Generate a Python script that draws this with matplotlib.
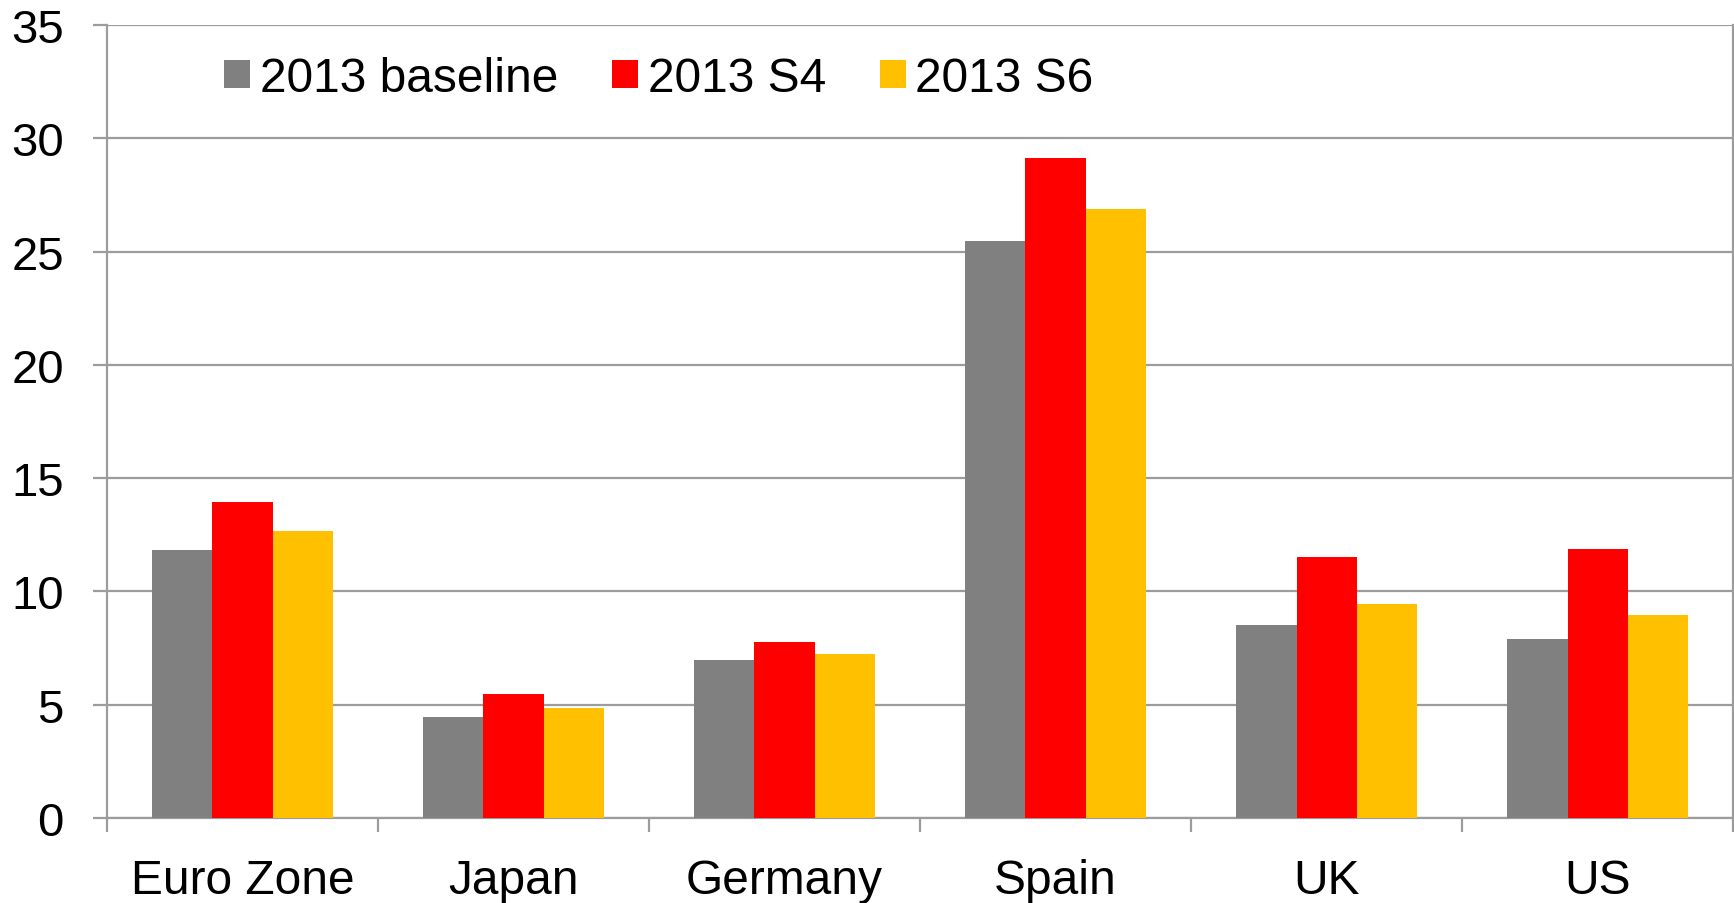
import numpy as np
import matplotlib
matplotlib.use("Agg")
import matplotlib.pyplot as plt

plt.rcParams['font.family'] = ['Liberation Sans', 'DejaVu Sans']

regions = ["Euro Zone", "Japan", "Germany", "Spain", "UK", "US"]
baseline = [11.83, 4.45, 6.99, 25.48, 8.50, 7.90]
s4 = [13.93, 5.47, 7.77, 29.15, 11.53, 11.89]
s6 = [12.66, 4.84, 7.23, 26.90, 9.44, 8.96]
series_labels = ["2013 baseline", "2013 S4", "2013 S6"]

colors = ["#808080", "#FF0000", "#FFC000"]
grid_col = "#9c9c9c"

fig = plt.figure(figsize=(17.34, 9.04), dpi=100)
ax = fig.add_axes([0.0617, 0.094, 0.9378, 0.8772])

x = np.arange(len(regions))
w = 0.222
for i, (vals, lab) in enumerate(zip([baseline, s4, s6], series_labels)):
    ax.bar(x + (i - 1) * w, vals, width=w, color=colors[i], label=lab, zorder=3)

ax.set_xlim(-0.5, len(regions) - 0.5)
ax.set_ylim(0, 35)
ax.set_yticks(np.arange(0, 36, 5))
ax.yaxis.grid(True, color=grid_col, linewidth=1.6, zorder=0)

# category boundaries get the tick marks, centres get the labels
ax.set_xticks(np.arange(-0.5, len(regions), 1.0))
ax.set_xticklabels([])
ax.set_xticks(x, minor=True)
ax.set_xticklabels(regions, minor=True, fontsize=34.5)
ax.tick_params(axis='x', which='major', length=10, width=1.6, color=grid_col)
ax.tick_params(axis='x', which='minor', length=0, pad=29)
ax.tick_params(axis='y', length=10, width=1.6, color=grid_col, labelsize=34, pad=21)

for s in ax.spines.values():
    s.set_color(grid_col)
    s.set_linewidth(1.6)
ax.spines['top'].set_visible(False)

ax.legend(loc='upper left', bbox_to_anchor=(0.129, 0.937), bbox_transform=fig.transFigure,
          ncol=3, frameon=False, fontsize=34.5, handlelength=0.55, handleheight=0.55,
          handletextpad=0.2, columnspacing=1.12, borderaxespad=0, borderpad=0)

fig.savefig("out.png", dpi=100)
